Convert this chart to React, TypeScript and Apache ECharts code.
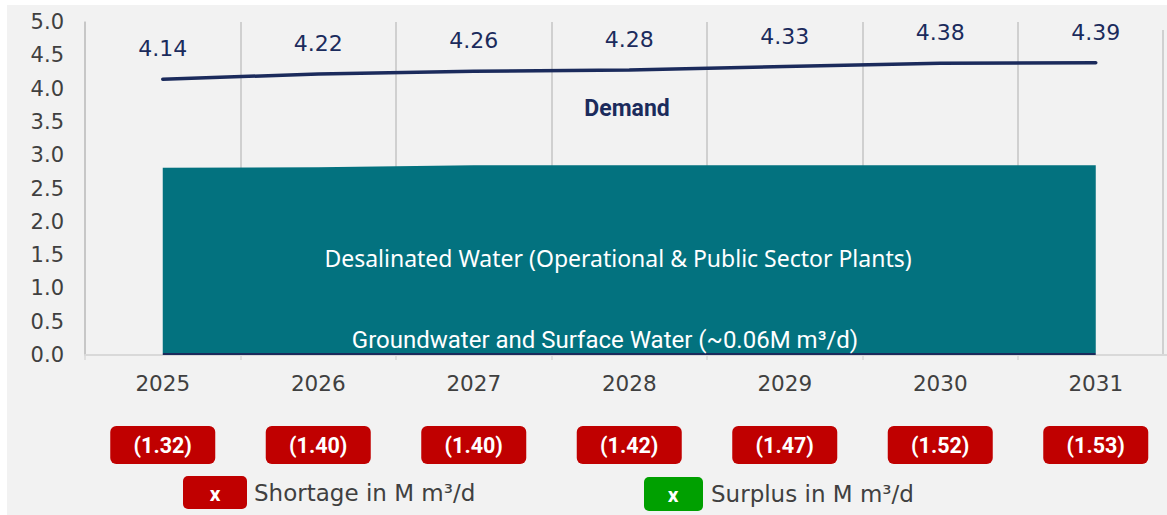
import React, { useEffect, useRef } from "react";
import * as echarts from "echarts";

const years = ["2025", "2026", "2027", "2028", "2029", "2030", "2031"];
const demand = [4.14, 4.22, 4.26, 4.28, 4.33, 4.38, 4.39];
const groundwater = [0.03, 0.03, 0.03, 0.03, 0.03, 0.03, 0.03];
const desalinated = [2.78, 2.79, 2.82, 2.82, 2.82, 2.82, 2.82];
const shortage = [1.32, 1.4, 1.4, 1.42, 1.47, 1.52, 1.53];

const NAVY = "#1b2b5c";
const TEAL = "#03727f";
const RED = "#c00000";
const GREEN = "#00a000";
const GREY_TXT = "#404040";
const DIN = "'DejaVu Sans', sans-serif";
const ROBOTO = "Roboto, sans-serif";

export default function App() {
  const ref = useRef<HTMLDivElement>(null);
  useEffect(() => {
    if (!ref.current) return;
    const chart = echarts.init(ref.current, undefined, { renderer: "svg" });
    chart.setOption({
      animation: false,
      backgroundColor: "transparent",
      textStyle: { fontFamily: DIN },
      grid: {
        left: 85,
        top: 22,
        bottom: 160,
        width: 1088.5,
        containLabel: false,
        outerBoundsMode: "none",
      },
      xAxis: {
        type: "category",
        data: years,
        boundaryGap: true,
        axisLine: { show: true, lineStyle: { color: "#d9d9d9", width: 2 } },
        axisTick: { show: true, length: 5, lineStyle: { color: "#d9d9d9", width: 1.5 } },
        splitLine: { show: true, lineStyle: { color: "#c4c4c4", width: 1.5 } },
        axisLabel: {
          interval: 0,
          margin: 14,
          hideOverlap: false,
          formatter: (v: string, i: number) =>
            `{y|${v}}\n{g| }\n{b|(${shortage[i].toFixed(2)})}`,
          rich: {
            y: { fontSize: 21.5, color: GREY_TXT, lineHeight: 28, fontFamily: DIN },
            g: { fontSize: 10, lineHeight: 29 },
            b: {
              width: 105,
              height: 38,
              lineHeight: 38,
              align: "center",
              backgroundColor: RED,
              borderRadius: 6,
              color: "#ffffff",
              fontWeight: "bold",
              fontSize: 21.5,
              fontFamily: ROBOTO,
            },
          },
        },
      },
      yAxis: {
        type: "value",
        min: 0,
        max: 5,
        interval: 0.5,
        axisLine: { show: true, lineStyle: { color: "#c4c4c4", width: 1.5 } },
        axisTick: { show: false },
        splitLine: { show: false },
        axisLabel: {
          margin: 21,
          fontSize: 21,
          color: GREY_TXT,
          fontFamily: DIN,
          formatter: (v: number) => v.toFixed(1),
        },
      },
      series: [
        {
          name: "Groundwater and Surface Water",
          type: "line",
          stack: "supply",
          data: groundwater,
          symbol: "none",
          lineStyle: { width: 0 },
          areaStyle: { color: NAVY, opacity: 1 },
          z: 2,
        },
        {
          name: "Desalinated Water",
          type: "line",
          stack: "supply",
          data: desalinated,
          symbol: "none",
          lineStyle: { width: 0 },
          areaStyle: { color: TEAL, opacity: 1 },
          z: 2,
        },
        {
          name: "Demand",
          type: "line",
          data: demand,
          symbol: "circle",
          showSymbol: true,
          symbolSize: 1,
          itemStyle: { color: NAVY },
          lineStyle: { color: NAVY, width: 3.5, cap: "round" },
          label: {
            show: true,
            position: "top",
            distance: 19,
            fontSize: 22,
            color: NAVY,
            opacity: 1,
            fontFamily: DIN,
            formatter: (p: any) => Number(p.value).toFixed(2),
          },
          z: 3,
        },
      ],
      graphic: [
        {
          type: "line",
          shape: { x1: 1163, y1: 30, x2: 1163, y2: 355 },
          style: { stroke: "#c4c4c4", lineWidth: 1.5 },
        },
        {
          type: "text",
          x: 627,
          y: 108,
          style: {
            text: "Demand",
            fill: NAVY,
            font: `bold 23px ${ROBOTO}`,
            textAlign: "center",
            textVerticalAlign: "middle",
          },
        },
        {
          type: "text",
          x: 618,
          y: 258,
          z: 10,
          style: {
            text: "Desalinated Water (Operational & Public Sector Plants)",
            fill: "#ffffff",
            font: `23px 'Noto Sans', sans-serif`,
            textAlign: "center",
            textVerticalAlign: "middle",
          },
        },
        {
          type: "text",
          x: 605,
          y: 340,
          z: 10,
          style: {
            text: "Groundwater and Surface Water (~0.06M m³/d)",
            fill: "#ffffff",
            font: `24px ${ROBOTO}`,
            textAlign: "center",
            textVerticalAlign: "middle",
          },
        },
        {
          type: "rect",
          shape: { x: 183, y: 476, width: 64, height: 33, r: 5 },
          style: { fill: RED },
        },
        {
          type: "text",
          x: 215,
          y: 494,
          style: {
            text: "x",
            fill: "#ffffff",
            font: `bold 21px ${ROBOTO}`,
            textAlign: "center",
            textVerticalAlign: "middle",
          },
        },
        {
          type: "text",
          x: 254,
          y: 493,
          style: {
            text: "Shortage in M m³/d",
            fill: GREY_TXT,
            font: `23px ${DIN}`,
            textAlign: "left",
            textVerticalAlign: "middle",
          },
        },
        {
          type: "rect",
          shape: { x: 644, y: 477, width: 59, height: 34, r: 5 },
          style: { fill: GREEN },
        },
        {
          type: "text",
          x: 673,
          y: 495,
          style: {
            text: "x",
            fill: "#ffffff",
            font: `bold 21px ${ROBOTO}`,
            textAlign: "center",
            textVerticalAlign: "middle",
          },
        },
        {
          type: "text",
          x: 711,
          y: 494,
          style: {
            text: "Surplus in M m³/d",
            fill: GREY_TXT,
            font: `23px ${DIN}`,
            textAlign: "left",
            textVerticalAlign: "middle",
          },
        },
      ],
    });
    return () => chart.dispose();
  }, []);

  return (
    <div
      style={{
        position: "fixed",
        left: 0,
        top: 0,
        width: 1167,
        height: 515,
        background: "#ffffff",
        overflow: "hidden",
      }}
    >
      <div
        style={{
          position: "absolute",
          left: 7,
          top: 5,
          right: 0,
          bottom: 0,
          background: "#f2f2f2",
        }}
      />
      <div
        ref={ref}
        style={{ position: "absolute", left: 0, top: 0, width: 1167, height: 515 }}
      />
    </div>
  );
}
